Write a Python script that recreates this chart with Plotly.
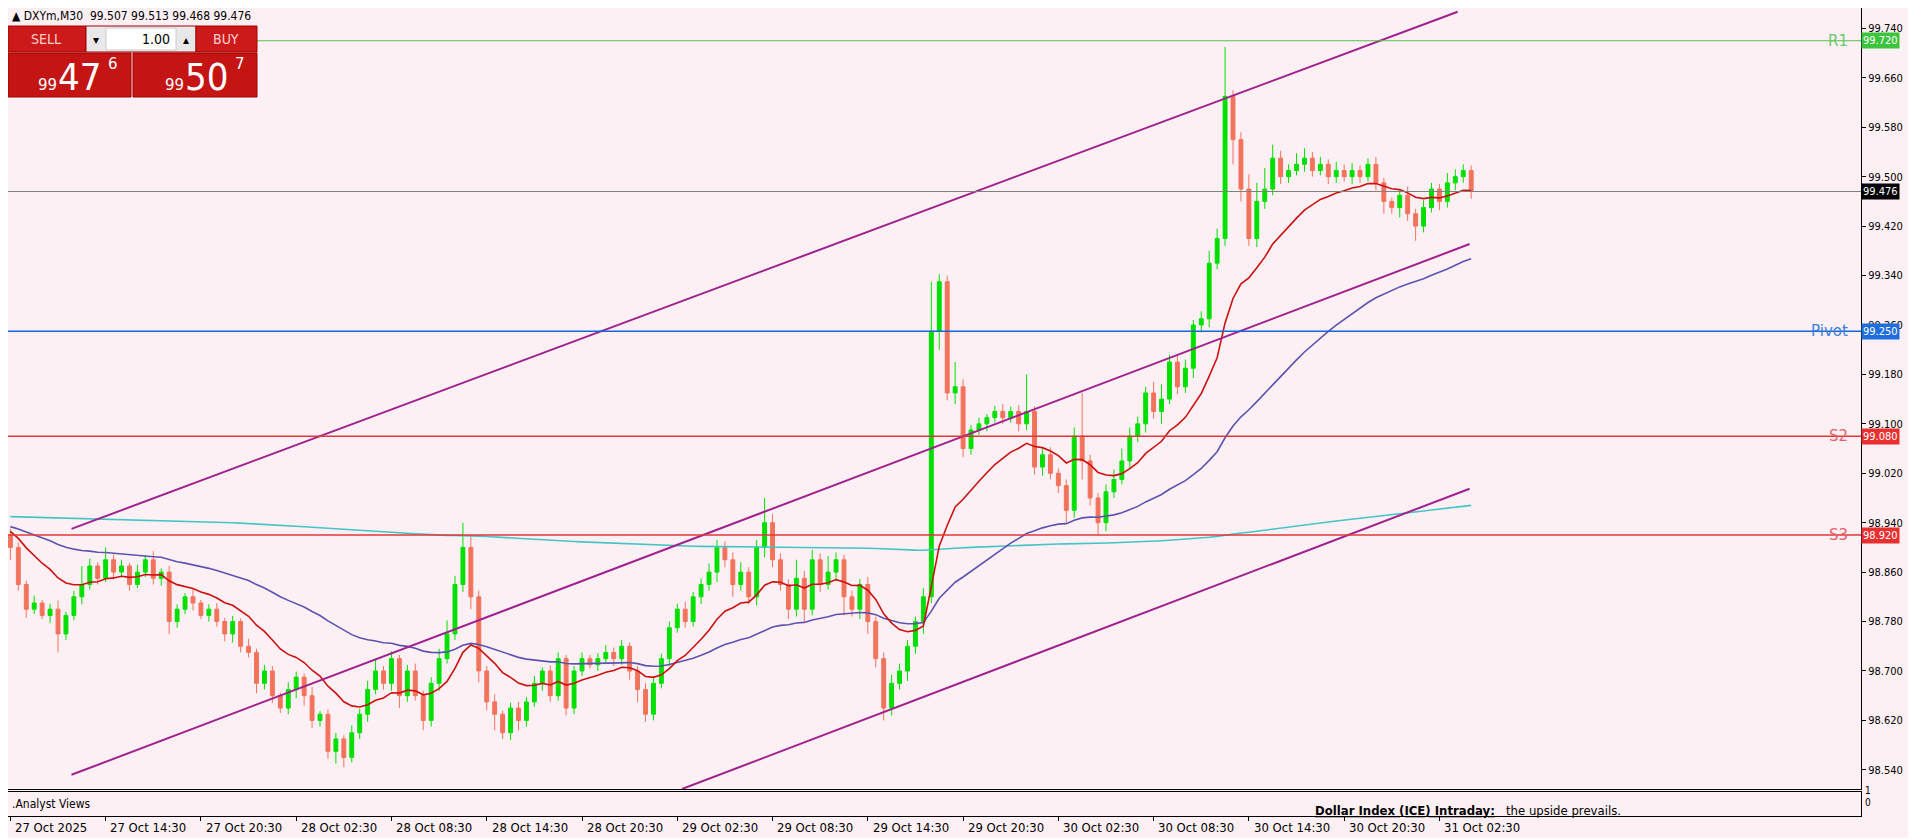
import pandas as pd
import plotly.graph_objects as go

# ---- data (30-min bars, DXYm) ----
first_open = 98.92
closes = [
    98.90, 98.84, 98.80, 98.81, 98.79, 98.80, 98.76, 98.79, 98.82, 98.84,
    98.87, 98.85, 98.88, 98.86, 98.87, 98.84, 98.86, 98.88, 98.85, 98.86,
    98.78, 98.80, 98.82, 98.81, 98.79, 98.80, 98.78, 98.76, 98.78, 98.74,
    98.73, 98.68, 98.70, 98.66, 98.64, 98.67, 98.69, 98.66, 98.62, 98.63,
    98.57, 98.59, 98.56, 98.60, 98.63, 98.67, 98.70, 98.68, 98.72, 98.66,
    98.70, 98.66, 98.62, 98.68, 98.72, 98.76, 98.84, 98.90, 98.82, 98.70,
    98.65, 98.63, 98.60, 98.64, 98.62, 98.65, 98.68, 98.70, 98.66, 98.72,
    98.64, 98.70, 98.72, 98.71, 98.72, 98.73, 98.72, 98.74, 98.70, 98.67,
    98.63, 98.68, 98.72, 98.77, 98.80, 98.78, 98.82, 98.84, 98.86, 98.90,
    98.88, 98.84, 98.86, 98.82, 98.90, 98.94, 98.88, 98.84, 98.80, 98.85,
    98.80, 98.88, 98.84, 98.86, 98.88, 98.82, 98.80, 98.84, 98.78, 98.72,
    98.64, 98.68, 98.70, 98.74, 98.78, 98.82, 99.25, 99.33, 99.15, 99.16,
    99.06, 99.09, 99.10, 99.11, 99.12, 99.11, 99.12, 99.10, 99.12, 99.03,
    99.05, 99.02, 99.00, 98.96, 99.08, 99.04, 98.98, 98.94, 98.99, 99.01,
    99.04, 99.08, 99.10, 99.15, 99.12, 99.14, 99.20, 99.16, 99.19, 99.26,
    99.27, 99.36, 99.40, 99.63, 99.56, 99.48, 99.40, 99.46, 99.48, 99.53,
    99.50, 99.51, 99.52, 99.53, 99.51, 99.52, 99.50, 99.51, 99.50, 99.51,
    99.50, 99.52, 99.49, 99.46, 99.45, 99.47, 99.44, 99.42, 99.45, 99.48,
    99.46, 99.49, 99.50, 99.51, 99.476,
]
# wick lengths in 0.001 units
upper_wick = [
    10, 8, 6, 12, 5, 9, 14, 6, 10, 30, 12, 6, 20, 8, 10, 5, 12, 8, 14, 6,
    10, 8, 6, 12, 5, 8, 10, 6, 9, 5, 12, 6, 10, 8, 5, 12, 9, 6, 14, 5,
    8, 10, 6, 12, 9, 14, 20, 8, 12, 6, 10, 12, 8, 10, 16, 22, 14, 40, 18, 10,
    8, 12, 6, 9, 10, 8, 12, 6, 9, 10, 6, 8, 10, 6, 9, 12, 8, 10, 6, 8,
    10, 12, 8, 10, 9, 12, 8, 10, 14, 12, 10, 12, 16, 8, 12, 40, 14, 10, 8, 30,
    12, 16, 10, 26, 12, 8, 10, 9, 12, 8, 10, 14, 12, 10, 8, 14, 80, 12, 10, 40,
    12, 8, 10, 6, 9, 12, 8, 10, 60, 8, 10, 12, 8, 10, 14, 70, 10, 8, 12, 16,
    20, 14, 12, 10, 18, 24, 12, 10, 14, 8, 12, 20, 16, 80, 10, 12, 24, 30, 34, 22,
    12, 10, 18, 16, 10, 12, 8, 14, 10, 12, 8, 10, 12, 8, 6, 10, 14, 8, 12, 10,
    8, 16, 12, 10, 8,
]
lower_wick = [
    20, 10, 14, 8, 6, 12, 30, 10, 8, 12, 8, 10, 6, 12, 8, 10, 6, 8, 10, 12,
    20, 10, 8, 12, 6, 10, 8, 12, 14, 10, 8, 16, 10, 12, 8, 10, 14, 16, 12, 10,
    12, 20, 16, 8, 10, 12, 8, 10, 12, 20, 10, 8, 16, 10, 12, 8, 10, 12, 20, 18,
    14, 26, 10, 12, 16, 10, 8, 12, 10, 8, 12, 10, 8, 6, 10, 8, 12, 10, 14, 20,
    12, 10, 8, 12, 8, 10, 8, 12, 10, 16, 12, 20, 10, 12, 14, 16, 12, 10, 16, 12,
    20, 10, 12, 8, 14, 30, 12, 16, 20, 14, 20, 12, 10, 16, 12, 20, 10, 30, 12, 18,
    14, 10, 8, 12, 8, 10, 8, 12, 10, 12, 14, 10, 12, 20, 12, 30, 12, 20, 14, 10,
    8, 12, 10, 14, 12, 20, 8, 12, 10, 16, 12, 14, 10, 12, 40, 20, 12, 14, 12, 10,
    12, 10, 8, 12, 10, 8, 12, 10, 8, 12, 10, 8, 12, 20, 10, 16, 12, 24, 10, 8,
    14, 10, 12, 10, 12,
]
tick_labels = ["27 Oct 2025", "27 Oct 14:30", "27 Oct 20:30", "28 Oct 02:30", "28 Oct 08:30",
               "28 Oct 14:30", "28 Oct 20:30", "29 Oct 02:30", "29 Oct 08:30", "29 Oct 14:30",
               "29 Oct 20:30", "30 Oct 02:30", "30 Oct 08:30", "30 Oct 14:30", "30 Oct 20:30",
               "31 Oct 02:30"]
levels = {"R1": 99.720, "Pivot": 99.250, "S2": 99.080, "S3": 98.920}
last_price = 99.476
ma_seeds = {"fast": 98.93, "mid": 98.935, "slow": 98.95}
# trend lines: (bar, price) anchors
channel = [((7.7, 98.930), (182.3, 99.767)),
           ((7.7, 98.532), (183.8, 99.391)),
           ((84.6, 98.509), (183.8, 98.995))]

opens = [first_open] + closes[:-1]
highs = [max(o, c) + u / 1000 for o, c, u in zip(opens, closes, upper_wick)]
lows = [min(o, c) - l / 1000 for o, c, l in zip(opens, closes, lower_wick)]
bars = list(range(len(closes)))


def ema(seed, span):
    s = pd.Series([seed] + closes).ewm(span=span, adjust=False).mean()
    return s.iloc[1:].tolist()


# figure sits 8px into the page (body margin); helpers take screen pixels
W, H = 1900, 830
OFF = 8
ML, MR, MT, MB = 0, 47, 0, 4


def px(x):
    return (x - OFF - ML) / (W - ML - MR)


def py(y):
    return 1 - (y - OFF - MT) / (H - MT - MB)


BG = "#fdf0f4"
FONT = "DejaVu Sans Condensed"
fig = go.Figure()
fig.add_trace(go.Candlestick(
    x=bars, open=opens, high=highs, low=lows, close=closes,
    increasing=dict(line=dict(color="#00e000", width=1), fillcolor="#00e000"),
    decreasing=dict(line=dict(color="#f2735c", width=1), fillcolor="#f2735c"),
    whiskerwidth=0, showlegend=False, hoverinfo="skip"))
for key, span, col in [("slow", 700, "#44c4c4"), ("mid", 50, "#5c52b0"), ("fast", 14, "#cc1010")]:
    fig.add_trace(go.Scatter(x=bars, y=ema(ma_seeds[key], span), mode="lines",
                             line=dict(color=col, width=1.6), showlegend=False, hoverinfo="skip"))
for (x0, y0), (x1, y1) in channel:
    fig.add_shape(type="line", x0=x0, y0=y0, x1=x1, y1=y1, xref="x", yref="y",
                  line=dict(color="#a0208e", width=2))

lvl_col = {"R1": "#4cc24c", "Pivot": "#1565d8", "S2": "#e03838", "S3": "#e03838"}
txt_col = {"R1": "#6cc86c", "Pivot": "#3a80e0", "S2": "#e8606a", "S3": "#e8606a"}
box_col = {"R1": "#3cc43c", "Pivot": "#1e6ee0", "S2": "#e83030", "S3": "#e83030"}
for name, val in levels.items():
    fig.add_shape(type="line", xref="paper", yref="y", x0=0, x1=1, y0=val, y1=val,
                  line=dict(color=lvl_col[name], width=1.5 if name != "R1" else 1))
    fig.add_annotation(xref="paper", yref="y", x=px(1850), y=val, text=name, showarrow=False,
                       xanchor="right", yanchor="middle",
                       font=dict(size=15, color=txt_col[name], family="DejaVu Sans"))
    fig.add_annotation(xref="paper", yref="y", x=1.0, y=val, text=f"{val:.3f}", showarrow=False,
                       xanchor="left", yanchor="middle", bgcolor=box_col[name], borderpad=1,
                       font=dict(size=11, color="white", family=FONT))
fig.add_shape(type="line", xref="paper", yref="y", x0=0, x1=1, y0=last_price, y1=last_price,
              line=dict(color="#808080", width=1))
fig.add_annotation(xref="paper", yref="y", x=1.0, y=last_price, text=f"{last_price:.3f}",
                   showarrow=False, xanchor="left", yanchor="middle", bgcolor="black", borderpad=1,
                   font=dict(size=11, color="white", family=FONT))

# sub panel
fig.add_trace(go.Scatter(x=[0], y=[0], xaxis="x2", yaxis="y2", mode="markers",
                         marker=dict(opacity=0), showlegend=False, hoverinfo="skip"))
tick_bars = [12 * i for i in range(len(tick_labels))]
for b, lab in zip(tick_bars, tick_labels):
    fig.add_annotation(xref="x2", yref="paper", x=b + 0.35, y=py(827), text=lab, showarrow=False,
                       xanchor="left", yanchor="middle", font=dict(size=13, color="black", family=FONT))
fig.add_annotation(xref="paper", yref="paper", x=px(10), y=py(804), text=".Analyst Views", showarrow=False,
                   xanchor="left", yanchor="middle", font=dict(size=12, color="black", family=FONT))
fig.add_annotation(xref="paper", yref="paper", x=px(1313), y=py(810),
                   text="<b><u>Dollar Index (ICE) Intraday:</u></b>   the upside prevails.", showarrow=False,
                   xanchor="left", yanchor="middle", font=dict(size=13, color="black", family=FONT))
for t, yy in [("1", 798), ("0", 810)]:
    fig.add_annotation(xref="paper", yref="paper", x=1.0, y=py(yy), text=t, showarrow=False, xanchor="left",
                       xshift=2, font=dict(size=10, color="black", family=FONT))

# header + trade panel
fig.add_annotation(xref="paper", yref="paper", x=px(10), y=py(16), text="▲ DXYm,M30  99.507 99.513 99.468 99.476",
                   showarrow=False, xanchor="left", yanchor="middle", font=dict(size=12, color="black", family=FONT))
RED = "#cc1a1a"
panel = [(8, 26, 86, 52, RED), (86, 26, 196, 52, "#e8e8e8"), (106, 28, 176, 50, "white"),
         (196, 26, 257, 52, RED), (8, 53, 131, 97, "#c41414"), (133, 53, 257, 97, "#c41414")]
for x0, y0, x1, y1, c in panel:
    fig.add_shape(type="rect", xref="paper", yref="paper", x0=px(x0), x1=px(x1), y0=py(y1), y1=py(y0),
                  fillcolor=c, line=dict(color="#a00000" if c != "white" else "#cccccc", width=1))
small = dict(showarrow=False, xref="paper", yref="paper", yanchor="middle")
fig.add_annotation(x=px(46), y=py(39), text="SELL", xanchor="center", font=dict(size=14, color="#ffd0d0", family=FONT), **small)
fig.add_annotation(x=px(226), y=py(39), text="BUY", xanchor="center", font=dict(size=14, color="#ffd0d0", family=FONT), **small)
fig.add_annotation(x=px(172), y=py(39), text="1.00", xanchor="right", font=dict(size=14, color="black", family=FONT), **small)
fig.add_annotation(x=px(96), y=py(40), text="▾", xanchor="center", font=dict(size=12, color="black"), **small)
fig.add_annotation(x=px(186), y=py(39), text="▴", xanchor="center", font=dict(size=12, color="black"), **small)
for x0, big, sup in [(36, "47", "6"), (163, "50", "7")]:
    fig.add_annotation(x=px(x0), y=py(85), text="99", xanchor="left", font=dict(size=15, color="white", family="DejaVu Sans"), **small)
    fig.add_annotation(x=px(x0 + 20), y=py(77), text=big, xanchor="left", font=dict(size=38, color="white", family=FONT), **small)
    fig.add_annotation(x=px(x0 + 70), y=py(64), text=sup, xanchor="left", font=dict(size=15, color="white", family="DejaVu Sans"), **small)

yticks = [round(98.54 + 0.08 * i, 3) for i in range(16)]
fig.update_layout(
    width=W, height=H, margin=dict(l=ML, r=MR, t=MT, b=MB),
    paper_bgcolor=BG, plot_bgcolor=BG,
    xaxis=dict(range=[-0.3, 233.1], domain=[0, 1], rangeslider=dict(visible=False),
               showticklabels=False, showgrid=False, zeroline=False, showline=True, mirror=True,
               linecolor="black", linewidth=1, ticks=""),
    yaxis=dict(range=[98.509, 99.773], domain=[py(789), 1], side="right", tickvals=yticks,
               tickformat=".3f", ticks="outside", ticklen=4, tickcolor="black", showgrid=False,
               zeroline=False, showline=True, mirror=True, linecolor="black", linewidth=1,
               tickfont=dict(size=11, color="black", family=FONT)),
    xaxis2=dict(range=[-0.3, 233.1], domain=[0, 1], anchor="y2", tickvals=tick_bars,
                ticktext=[""] * len(tick_bars), ticks="outside", ticklen=4, tickcolor="black",
                showgrid=False, zeroline=False, showline=True, mirror=True, linecolor="black"),
    yaxis2=dict(range=[0, 1], domain=[py(816), py(792)], anchor="x2", showticklabels=False,
                showgrid=False, zeroline=False, showline=True, mirror=True, linecolor="black", ticks=""),
)
fig.write_html("out.html")
